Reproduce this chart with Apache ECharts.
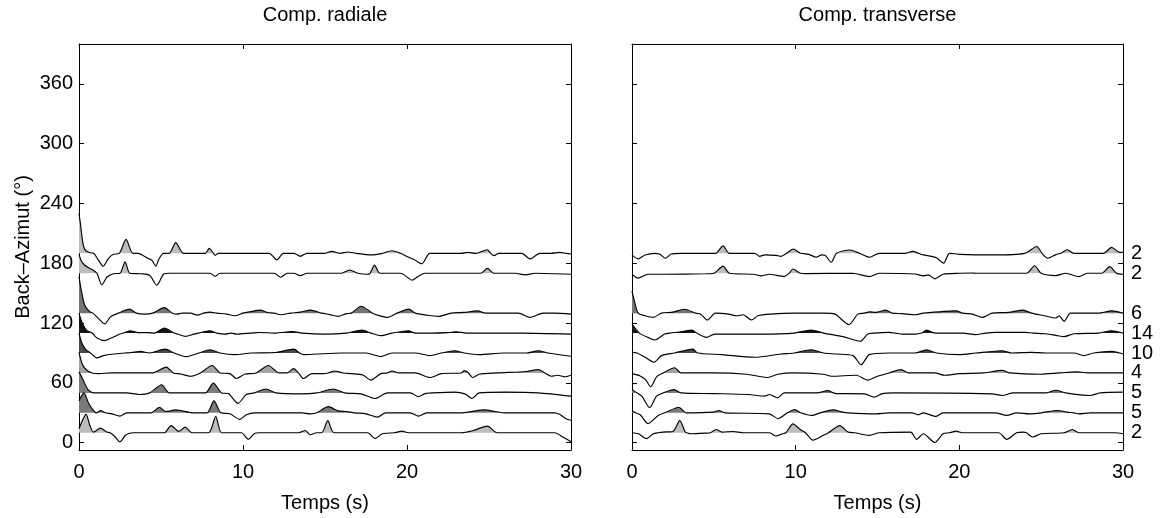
<!DOCTYPE html>
<html>
<head>
<meta charset="utf-8">
<script src="https://cdn.jsdelivr.net/npm/echarts@6/dist/echarts.min.js"></script>
<style>
  html, body { margin: 0; background: #fff; }
  #chart { width: 1165px; height: 518px; }
</style>
</head>
<body>
<div id="chart"></div>
<script>
// traces: [time (s), amplitude], one array per back-azimuth bin

// ---- Comp. radiale
var rad10 = [[0,4],[0.2,12],[0.43,18.7],[0.65,8],[0.87,0.7],[1.0,1.5],[1.3,4.6],[1.7,0.7],[1.9,0],[2.2,-4],[2.5,-9.2],[2.8,-3],[3.0,-1],[3.3,0],[5.2,0],[5.61,7.2],[6.0,2],[6.1,1.6],[6.47,5.6],[6.9,0],[7.9,0],[8.34,16.4],[8.7,0],[9.9,0],[10.33,-6.6],[10.7,-0.7],[11,0],[13.4,0],[13.8,2.3],[13.95,0],[14.1,-2],[14.5,0],[14.8,0],[15.17,12.1],[15.55,0],[17.6,0],[18.05,-5.9],[18.5,-1],[19.2,0],[19.7,1.6],[20.1,0],[23.3,0],[24.0,2],[24.9,6.6],[25.5,0],[29.0,0],[29.5,-4.3],[30,-9]];
var rad30 = [[0,12],[0.3,20],[0.6,9],[0.9,2],[1.05,0],[1.32,2.3],[1.6,0],[2.0,-1],[2.5,-3.3],[2.9,0],[4.4,0],[4.9,5.6],[5.3,1.3],[5.6,2],[5.86,3],[6.2,2.3],[6.9,0],[7.8,0],[8.23,12],[8.65,0],[9.2,-1],[9.8,-6.6],[10.2,-2],[10.7,0],[13.6,0],[14.1,-1],[14.5,0],[15.2,6.2],[15.8,2],[16.3,1.3],[16.8,0],[17.5,-1],[18.2,-4.3],[18.7,0],[20.2,0],[20.7,-3.3],[21.2,0],[23.3,0],[24.0,1.5],[24.7,3],[25.3,1.6],[25.9,0],[29.0,0],[29.3,-1.5],[29.7,-5.9],[30,-7.5]];
var rad50 = [[0,21.3],[0.25,13],[0.55,3.3],[0.9,0],[2.9,0],[3.67,-1.6],[4.3,0],[5.04,8.2],[5.5,0],[7.7,0],[8.19,9.8],[8.7,0],[9.1,-0.7],[9.7,-10.5],[10.2,-1.6],[10.7,0],[11.4,3.9],[12.0,0],[13.6,-1],[14.5,0],[15.5,3.9],[16.2,0],[17.2,-1],[18.05,-5.6],[18.8,0],[20.2,0],[20.7,-3.9],[21.1,-0.7],[21.6,0],[22.9,0.7],[23.3,0],[23.6,-1.6],[23.96,-5.6],[24.4,0],[26,0.7],[28,0],[30,-3.3]];
var rad70 = [[0,20.7],[0.2,9],[0.45,3],[0.8,0],[1.2,-0.7],[2,0],[4.5,0],[5.32,5.9],[5.75,0],[6.2,-1],[6.78,-3.3],[7.4,0],[8.12,7.5],[8.6,0],[9.2,-0.7],[9.6,-5.6],[10.1,-1.3],[10.8,0],[11.55,7.5],[12.2,0],[12.7,0],[13.08,4.3],[13.38,0],[13.69,-5.6],[14.2,-0.7],[14.9,-0.7],[15.2,0],[15.6,2],[16.1,0],[16.6,-0.7],[17.3,-2],[17.8,-7.2],[18.4,-0.7],[18.8,0],[19.1,2],[19.5,0],[20.5,0],[21.4,-4.6],[22.1,-0.7],[23.3,0],[23.5,2.3],[23.75,0],[24.0,-4.6],[24.4,-1.3],[25.5,0],[27.3,1.5],[28,3.3],[28.4,0],[28.8,-3.3],[29.2,-2.3],[29.6,-3.9],[30,-2.3]];
var rad90 = [[0,19.7],[0.2,9],[0.45,3],[0.7,0],[1.08,-4.9],[1.5,-2.6],[2.1,-1],[2.8,0],[3.2,0.5],[3.75,1.6],[4.3,0],[5.25,3.9],[5.8,0],[6.55,-3.6],[7.3,0],[8.0,3.3],[8.6,0],[9.5,-1.6],[10.5,0],[12,0.5],[13.1,3.9],[13.45,0],[13.7,-1.6],[14.5,-1],[16,0],[17.5,0],[18.4,-3.6],[19.1,0],[20.5,0],[21.4,-2.6],[22.1,0],[22.9,2.3],[23.5,0],[24.4,-1.6],[25.9,0],[27.3,0],[28,2.3],[28.6,0],[30,-3.3]];
var rad110 = [[0,19.7],[0.2,10],[0.45,3],[0.8,0],[1.1,-4.9],[1.57,-7.5],[2.1,-4],[2.5,-1],[2.7,0],[3.1,2.3],[3.6,0.5],[4.2,0.5],[4.6,0],[5.19,4.9],[5.8,0],[6.0,-1],[6.5,-3.3],[7.0,-1],[7.3,0],[7.97,2.3],[8.4,0],[8.9,-1],[9.3,0],[9.6,-1],[10.5,0],[11,0.6],[12,0],[13.0,1.6],[13.6,0],[15.0,-1],[16.3,0],[17.25,3],[17.8,0],[18.4,-2.6],[19.1,0],[20.1,2.3],[20.5,0],[21.5,0],[22.5,0.5],[23.0,1.3],[23.6,0],[25,0],[27,0],[30,-1]];
var rad130 = [[0,36.7],[0.15,22],[0.35,8],[0.65,1.5],[0.85,0],[1.1,-4],[1.57,-10.8],[1.9,-4],[2.1,-2],[2.4,0],[3.07,4],[3.5,0],[4.0,-1],[4.5,0],[5.19,5.6],[5.7,0],[5.96,-1],[6.3,0],[6.8,0],[7.2,-2],[7.6,0],[8.0,1],[8.4,0],[9.0,-1],[9.5,-2.6],[10.0,0],[10.5,1.5],[11.05,3],[11.5,0.7],[11.9,0],[12.27,-1.6],[12.9,0],[13.5,1],[14.1,3],[14.8,0],[15.3,-1.5],[15.8,-3.3],[16.3,-0.5],[16.6,0],[17.2,6.9],[17.9,0],[18.3,-2.5],[18.8,-4.3],[19.4,0],[20.1,4],[20.5,0],[21.2,-2],[21.9,-3.3],[22.7,0],[23.5,0.7],[24.3,2.3],[24.8,0],[26.8,0],[27.5,-4.3],[28.3,0],[29,0],[30,-1]];
var rad170 = [[0,19],[0.15,12],[0.35,8],[0.65,5],[0.95,2],[1.1,0],[1.39,-11.5],[1.7,-4],[2.1,-0.5],[2.5,0],[2.81,11.5],[3.1,0],[3.8,-0.5],[4.3,-2],[4.75,-12],[5.15,-1],[5.5,0],[8.0,0],[8.3,-3],[8.6,0],[11.9,0],[12.3,-4],[12.7,0],[13.1,0],[13.5,-2.3],[13.9,0],[16.0,0],[16.5,3.3],[17.0,0],[17.55,-1],[17.75,0],[18.02,8.2],[18.35,0],[19.6,0],[20.1,-5],[20.3,-7],[20.7,-3],[21.1,0],[24.5,0],[24.9,4.9],[25.3,0],[26.6,0],[27.2,-1.6],[27.8,0],[30,-1]];
var rad190 = [[0,40],[0.1,28],[0.22,12],[0.35,4],[0.6,1],[0.9,0],[1.15,-6],[1.48,-13],[1.8,-5],[2.1,-1],[2.46,0],[2.87,14],[3.28,0],[3.6,0],[4.2,-5],[4.45,-7],[4.68,-12.8],[4.9,-5],[5.15,0],[5.5,0],[5.9,10.8],[6.37,0],[7.7,0],[7.94,5],[8.2,0],[8.3,-2],[8.5,0],[11.6,0],[12.06,-6.6],[12.47,0],[13.1,0],[13.5,-3],[13.9,0],[15.0,0],[15.4,2],[15.9,0],[16.4,1.3],[16.9,0],[17.8,-1.6],[18.5,0],[19.08,2.6],[19.6,0],[20.1,-4],[20.4,-6],[20.9,-10.5],[21.4,0],[23.3,0],[23.7,1],[24.2,0],[24.9,3.6],[25.1,0],[25.3,-2.3],[25.6,0],[27.0,0],[27.5,-5.6],[28.1,0],[28.8,0],[29.3,1],[29.7,0],[30,-0.7]];

// ---- Comp. transverse
var tra10 = [[0,0],[0.4,-1],[0.88,-5.9],[1.3,-1],[1.6,0],[1.9,0.7],[2.5,1.3],[2.92,12.1],[3.25,0.7],[3.35,0],[3.6,-1],[4.6,-0.3],[4.8,0],[5.15,3.3],[5.5,0.7],[6.2,1.3],[6.8,0],[8.4,0],[8.8,-3.3],[9.2,-1],[9.4,0],[9.84,8.9],[10.3,3],[10.6,0],[11.06,-7.5],[11.7,-2.6],[12.0,0],[12.69,7.2],[13.2,0.7],[13.6,0],[14.5,-2.6],[15.1,0],[17.0,0.7],[17.1,0],[17.4,-6.6],[17.8,-1],[18.5,-9.8],[19.0,-1],[19.4,0],[19.8,1.6],[20.2,0],[22.4,0],[22.9,-6.6],[23.5,0],[23.9,0.7],[24.1,0],[24.47,-4.3],[25.0,-1],[26.4,0],[26.9,3.3],[27.3,0],[29.5,0],[30,-1]];
var tra30 = [[0,2.3],[0.2,0],[0.5,-2],[0.98,-10.8],[1.6,-2.6],[2.0,0],[2.87,5.6],[3.3,0],[5.0,0.7],[5.3,2.3],[5.7,0],[8.4,-1],[8.92,-5.9],[9.5,0],[9.94,3.3],[10.3,0],[11.0,-2.6],[11.5,0],[12.3,3],[12.8,1],[13.2,0],[14.9,-1],[15.7,0],[17.1,0],[17.5,-2],[17.8,0],[18.55,-3.6],[19.0,0],[22.2,0],[22.9,-2.6],[23.5,0],[24.3,-1],[25.0,0],[26.0,2.3],[26.6,0.7],[27.0,0],[27.3,-1],[28.0,0],[30,0]];
var tra50 = [[0,3.3],[0.3,0],[0.6,-3.3],[1.08,-14.8],[1.5,-3.3],[1.9,0],[2.57,3.3],[3.0,0],[5.0,-0.7],[7.1,-1.6],[8.1,-3.3],[8.4,-1.6],[8.9,-4.9],[9.3,0],[11.3,0],[11.97,2.3],[12.3,0],[12.5,-0.7],[14.2,-1],[14.8,-4.3],[15.3,-0.7],[16,0],[22.0,-1],[22.6,-2.6],[23.3,0],[25.3,0],[25.9,2.6],[26.5,0],[28,-2.6],[28.6,0],[30,0.7]];
var tra70 = [[0,-0.7],[0.5,-3],[0.85,-7.2],[1.14,-13.8],[1.5,-3.9],[1.9,0],[2.61,5.2],[3.0,0],[5.0,0],[7.0,-1.3],[8.3,-4.6],[8.9,-1.3],[9.9,0],[11.7,-1.3],[12.2,-3.3],[13.7,-2.3],[14.4,-7.2],[15.0,-3.3],[15.7,0],[16.45,3.3],[16.9,0],[18.5,0],[19.1,-2.3],[20.0,-0.7],[21.5,0],[22.6,2.6],[23.1,0],[25.0,-1.3],[26.1,0],[27.2,1],[28.0,0],[30,0]];
var tra90 = [[0,0.7],[0.3,0],[0.8,-4.3],[1.34,-9.2],[1.8,-2.6],[2.6,0],[3.73,3.9],[4.0,0],[5.5,-1.6],[7.5,-4.3],[9.1,-1],[9.9,0],[10.95,3.3],[11.7,0],[12.5,-1],[13.5,-2.6],[14.0,-11.8],[14.5,-1.6],[15.7,0],[17.3,0],[18.0,3.3],[18.6,0],[20.0,-1.6],[21.0,0],[22.6,2.3],[23.2,0],[24.4,0.7],[25.3,0],[27.0,0],[27.6,-2.6],[28.2,0],[29.3,1.6],[29.8,0],[30,-1]];
var tra110 = [[0,8.9],[0.45,0],[0.98,-4.3],[1.39,-6.9],[2.0,-1],[2.3,0],[3.0,1.2],[3.67,3],[3.95,0],[4.55,-4.3],[5.05,-1],[6,-1],[8,-1],[9.9,0],[10.95,3],[11.7,0],[12.9,-3.6],[13.95,-8.2],[14.4,-1],[14.8,0],[15.7,0.7],[16.1,0],[16.5,-1],[17.3,-1],[17.7,0],[18.0,3],[18.5,0],[20.2,0],[21.0,-1.6],[21.6,0],[22.2,0.7],[24.0,0.7],[24.5,0],[25.3,-0.7],[25.9,-2.3],[26.4,-3.6],[27.0,-0.7],[28.5,0],[29.3,2.3],[30,0]];
var tra130 = [[0,22],[0.15,12],[0.37,0],[0.8,-2.6],[1.3,-4.3],[1.8,0],[2.5,1],[3.2,3.9],[3.9,0],[4.2,-1],[4.6,-6.9],[5.1,0],[5.9,-1],[6.4,-2.6],[6.8,-1.6],[7.3,-6.9],[7.7,-2.6],[8.5,-1],[9.9,0],[11.7,0],[12.4,-1],[13.25,-11.5],[13.8,-1],[14.2,0],[14.5,1.3],[14.9,0.7],[15.5,3],[15.9,0],[16.5,-0.5],[17.3,-1.6],[17.8,0],[19.8,2.3],[20.2,0],[20.8,-1],[21.4,-4.3],[22.0,0],[23.0,0.7],[23.9,3],[24.4,0],[25.2,-2.6],[25.9,-4.9],[26.1,-2.6],[26.4,-8.2],[26.8,0],[28.5,0],[29.3,2.3],[30,0]];
var tra170 = [[0,-1],[0.37,-4.9],[0.98,-1],[2,-1],[4.5,-0.5],[5.0,0],[5.56,7.2],[5.95,0],[7.4,-1],[7.9,-2.6],[8.4,-1],[9.3,-3.3],[9.6,0],[9.83,4.3],[10.3,0],[10.6,-0.3],[13.5,0],[14.5,-3.3],[15.1,0],[17.3,-0.7],[17.8,-2.6],[18.1,-1.6],[18.5,-5.6],[19.0,-1],[20.0,0],[20.8,0.3],[21.0,0],[24.1,0],[24.6,7.5],[25.0,0],[25.9,-2.3],[26.5,0],[27.3,-3.3],[27.8,0],[28.7,0],[29.19,6.6],[29.6,0],[30,-1]];
var tra190 = [[0,-1.6],[0.37,-5.6],[0.8,-1.6],[1.4,0],[1.7,-1],[2.04,-4.9],[2.4,-0.7],[3,0],[5.1,0],[5.56,7.5],[5.95,0],[7.5,0],[7.8,-3],[8.1,-1.6],[8.8,-2],[9.1,-3],[9.45,0],[9.84,4.3],[10.3,0],[10.8,-1],[11.26,-3.9],[11.6,-1.6],[11.8,-2],[12.17,-8.9],[12.5,0],[13.3,3.3],[13.9,0],[14.52,-3.9],[15.1,0],[16.7,0],[17.17,2],[17.5,0],[17.8,-1.6],[18.3,-3],[18.6,-4.5],[19.04,-9.8],[19.4,0],[20,-1],[22,-1.6],[24.0,0],[24.73,6.9],[25.05,0],[25.4,-4.9],[25.9,-1.3],[26.2,0],[26.6,3.6],[27.0,0],[28.8,0],[29.3,5.9],[29.8,1],[30,1]];

var baselines = [10, 30, 50, 70, 90, 110, 130, 170, 190];
var counts = [2, 5, 5, 4, 10, 14, 6, 2, 2];
var azimutTicks = [0, 60, 120, 180, 240, 300, 360];

var radial = [rad10, rad30, rad50, rad70, rad90, rad110, rad130, rad170, rad190];
var transverse = [tra10, tra30, tra50, tra70, tra90, tra110, tra130, tra170, tra190];

// fill shade by number of stacked traces
var shade = { 2: '#bdbdbd', 4: '#a4a4a4', 5: '#7b7b7b', 6: '#747474', 10: '#4a4a4a', 14: '#151515' };

var FONT = 'Liberation Sans';
var FS = 20;
var SMOOTH = 0.25;

function buildSeries(traces, xIdx, yIdx) {
  var out = [];
  traces.forEach(function (tr, i) {
    var base = baselines[i];
    out.push({
      type: 'line', xAxisIndex: xIdx, yAxisIndex: yIdx,
      data: tr.map(function (p) { return [p[0], base + Math.max(p[1], 0)]; }),
      symbol: 'none', smooth: SMOOTH, silent: true, z: 2,
      lineStyle: { width: 0 },
      areaStyle: { color: shade[counts[i]], opacity: 1, origin: base }
    });
    out.push({
      type: 'line', xAxisIndex: xIdx, yAxisIndex: yIdx,
      data: tr.map(function (p) { return [p[0], base + p[1]]; }),
      symbol: 'none', smooth: SMOOTH, silent: true, z: 3,
      lineStyle: { color: '#000', width: 1.15 }
    });
  });
  return out;
}

function xAx(grid, pos, labels, name, gap) {
  return {
    type: 'value', gridIndex: grid, position: pos, min: 0, max: 30, interval: 10,
    name: name, nameLocation: 'middle', nameGap: gap,
    nameTextStyle: { color: '#000', fontFamily: FONT, fontSize: FS },
    axisLine: { show: true, onZero: false, lineStyle: { color: '#000', width: 1 } },
    axisTick: { inside: true, length: 5, lineStyle: { color: '#000' } },
    axisLabel: { show: labels, color: '#000', fontFamily: FONT, fontSize: FS, margin: 12 },
    splitLine: { show: false }
  };
}

function yAx(grid, pos, labels, name) {
  return {
    type: 'value', gridIndex: grid, position: pos, min: -7.3, max: 400,
    name: name, nameLocation: 'middle', nameGap: 46,
    nameTextStyle: { color: '#000', fontFamily: FONT, fontSize: FS },
    axisLine: { show: true, onZero: false, lineStyle: { color: '#000', width: 1 } },
    axisTick: { inside: true, length: 5, customValues: azimutTicks, lineStyle: { color: '#000' } },
    axisLabel: { show: labels, customValues: azimutTicks, color: '#000', fontFamily: FONT, fontSize: FS, margin: 6 },
    splitLine: { show: false }
  };
}

var chart = echarts.init(document.getElementById('chart'));
var option = {
  animation: false,
  backgroundColor: '#fff',
  grid: [
    { left: 79, top: 40, width: 492, height: 415 },
    { left: 632, top: 40, width: 491, height: 415 }
  ],
  xAxis: [
    xAx(0, 'bottom', true, 'Temps (s)', 43),
    xAx(0, 'top', false, 'Comp. radiale', 19),
    xAx(1, 'bottom', true, 'Temps (s)', 43),
    xAx(1, 'top', false, 'Comp. transverse', 19)
  ],
  yAxis: [
    yAx(0, 'left', true, 'Back\u2013Azimut (\u00b0)'),
    yAx(0, 'right', false, ''),
    yAx(1, 'left', false, ''),
    yAx(1, 'right', false, ''),
    {
      type: 'value', gridIndex: 1, position: 'right', min: -7.3, max: 400,
      axisLine: { show: false }, axisTick: { show: false }, splitLine: { show: false },
      axisLabel: {
        customValues: baselines, color: '#000', fontFamily: FONT, fontSize: FS, margin: 8,
        formatter: function (v) { return String(counts[baselines.indexOf(v)]); }
      }
    }
  ],
  series: buildSeries(radial, 0, 0).concat(buildSeries(transverse, 2, 2))
};
chart.setOption(option);
</script>
</body>
</html>
